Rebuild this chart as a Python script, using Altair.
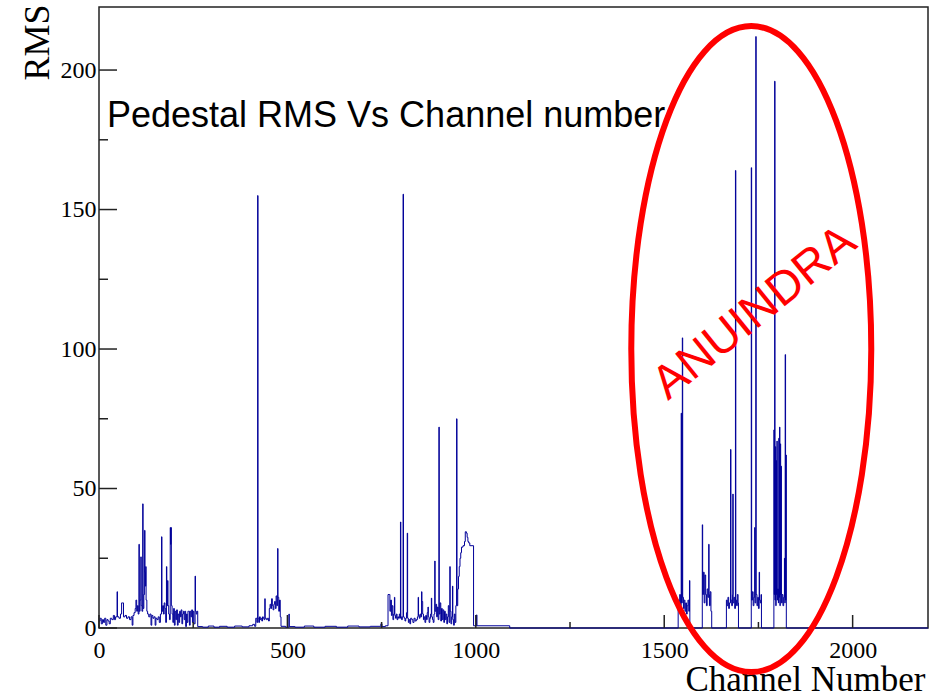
import altair as alt
import pandas as pd

# ---- histogram values (channel, RMS), drawn as steps ----
block_a = [(0, 2.5), (3, 3.5), (6, 1.5), (9, 3), (12, 2), (15, 3.5), (18, 1), (21, 3), (24, 2.5),
           (27, 1.5), (30, 3.5), (34, 3), (38, 4.5), (41, 3), (44, 4), (48, 13), (49, 4), (53, 3.5),
           (57, 5), (60, 9), (63, 9), (65, 4), (69, 4.5), (73, 3.5), (77, 4), (81, 3), (85, 4), (88, 1),
           (90, 4.5), (93, 5.5), (96, 7), (98, 10), (100, 6), (102, 8), (104, 5), (106, 30), (107, 6),
           (109, 10), (111, 25.5), (112, 8), (114, 6), (116, 44.5), (117, 7), (119, 12), (121, 35),
           (122, 20), (123, 15), (124, 22), (125, 10), (127, 6), (129, 5), (132, 4), (135, 5), (138, 1),
           (140, 4.5), (143, 3.5), (146, 4), (149, 1), (151, 3.5), (154, 3), (157, 4), (160, 2), (163, 5),
           (166, 32.7), (167, 6), (169, 8), (171, 5), (173, 9), (175, 7), (177, 2), (179, 22), (180, 8),
           (182, 17), (183, 8), (185, 5), (187, 3), (189, 36), (190, 30), (191, 36), (192, 8), (194, 5),
           (196, 2), (198, 7), (200, 1), (202, 6), (204, 3), (206, 6.5), (208, 1), (210, 5), (212, 2),
           (214, 6), (216, 4), (218, 6.5), (220, 1.5), (222, 5), (224, 6), (226, 3), (228, 6), (230, 0.5),
           (232, 5), (234, 2), (236, 6), (238, 6), (240, 1), (242, 6), (244, 4), (246, 6.5), (248, 2),
           (250, 6), (252, 1.5), (255, 18.6), (256, 6), (258, 5), (260, 6), (262, 0.5)]
block_b = [(275, 0.3), (290, 0.7), (305, 0.3), (320, 0.6), (340, 0.3), (360, 0.7), (380, 0.4),
           (398, 0.8), (408, 1.3), (413, 0.6)]
block_c = [(416, 3.5), (419, 2), (421, 155), (422, 3.5), (424, 2), (426, 4), (428, 3), (430, 3.5),
           (432, 2.5), (434, 4), (436, 3.5), (438, 3), (440, 10.5), (441, 3.5), (444, 3), (447, 3.5),
           (450, 2.5), (452, 7), (454, 8.5), (456, 7), (458, 10.5), (460, 8), (462, 6.5), (464, 8.5),
           (466, 9.5), (468, 7), (470, 11.5), (472, 8), (474, 28.5), (475, 11), (477, 6), (479, 10),
           (481, 4), (483, 0.6), (495, 0.3), (504, 5), (505, 0.5)]
block_d = [(520, 0.3), (545, 0.7), (570, 0.3), (600, 0.6), (630, 0.3), (660, 0.7), (690, 0.4),
           (720, 0.6), (748, 1.5), (751, 0.5), (760, 0.8)]
block_e = [(767, 12), (770, 12), (772, 6), (774, 10), (776, 4.5), (778, 8), (780, 3), (782, 5),
           (784, 11), (785, 4.5), (787, 3.5), (789, 5), (791, 3), (793, 4), (795, 3.5), (797, 5),
           (799, 3.5), (800, 38), (801, 4), (803, 3), (805, 4), (807, 155.5), (808, 4), (810, 3.5),
           (812, 2.5), (814, 3.5), (816, 5.5), (818, 34), (819, 3.5), (821, 2), (823, 3), (825, 1.5),
           (827, 3.5), (830, 3), (833, 2), (836, 3.5), (839, 2.5), (842, 3), (845, 4), (847, 11),
           (848, 4.5), (850, 3.5), (852, 5), (854, 4), (856, 13), (857, 9.5), (859, 5), (861, 3),
           (863, 4), (865, 2), (867, 4.5), (869, 3), (871, 5.5), (873, 7.5), (874, 4), (876, 2),
           (878, 3.5), (880, 5), (882, 10.7), (883, 4), (885, 3), (887, 2), (889, 5), (891, 24),
           (892, 6), (894, 8.5), (896, 4), (898, 7.5), (900, 3), (902, 72), (903, 5), (905, 9),
           (907, 2.5), (909, 7), (911, 3), (913, 6.5), (915, 2), (917, 6), (919, 3), (921, 5),
           (923, 1.5), (925, 4), (927, 8), (929, 2), (931, 22), (932, 6), (934, 1.5), (936, 4),
           (938, 15), (939, 3), (941, 1), (943, 5), (945, 2), (947, 8), (949, 75), (950, 8), (952, 14),
           (954, 18.5), (956, 22), (958, 25), (960, 27), (962, 29), (966, 29.5), (970, 31), (972, 34.5),
           (975, 34), (977, 32.5), (979, 31), (981, 30.5), (984, 29.5), (994, 0.8), (1002, 4.7),
           (1003, 0.8), (1090, 0), (1536, 0)]
block_f = [(1537, 10), (1539, 7), (1541, 12), (1543, 8), (1545, 77), (1546, 9), (1548, 104), (1549, 11),
           (1551, 7), (1553, 10), (1555, 6), (1557, 9), (1559, 5), (1561, 8), (1563, 10), (1565, 6),
           (1567, 17), (1568, 0)]
block_g = [(1601, 37), (1602, 12), (1604, 20), (1606, 9), (1608, 19), (1610, 12), (1612, 8), (1614, 14),
           (1616, 11), (1618, 30), (1619, 12), (1620, 8), (1622, 13), (1624, 6), (1626, 0)]
block_h = [(1665, 10), (1667, 8), (1669, 11), (1671, 7), (1673, 9), (1676, 64), (1677, 10), (1679, 8),
           (1681, 12), (1682, 48), (1683, 9), (1685, 11), (1687, 7), (1689, 164), (1690, 10), (1692, 8),
           (1694, 12), (1696, 9), (1697, 0)]
block_i = [(1731, 165), (1732, 10), (1734, 13), (1736, 8), (1738, 11), (1740, 36), (1741, 9), (1743, 212),
           (1744, 12), (1746, 8), (1748, 11), (1750, 7), (1752, 20), (1753, 10), (1755, 9), (1757, 12),
           (1758, 0)]
block_j = [(1791, 71), (1792, 12), (1793, 196), (1794, 10), (1795, 65), (1796, 8), (1797, 60), (1798, 12),
           (1799, 67), (1800, 10), (1801, 14), (1803, 9), (1804, 68), (1805, 11), (1806, 72), (1807, 8),
           (1808, 66), (1809, 12), (1810, 58), (1811, 9), (1813, 12), (1815, 8), (1817, 11), (1819, 25),
           (1820, 9), (1821, 98), (1822, 10), (1823, 62), (1824, 0), (2200, 0)]

y_major = [0, 50, 100, 150, 200]
y_minor = [25, 75, 125, 175]
x_major = [0, 500, 1000, 1500, 2000]
x_minor = [250, 750, 1250, 1750]

title_text = "Pedestal RMS Vs Channel number"
ann_text = "ANUINDRA"
ann_channel = [1740]
ann_rms = [113]
ellipse_channel = [1731]
ellipse_rms = [100]

pts = block_a + block_b + block_c + block_d + block_e + block_f + block_g + block_h + block_i + block_j
hist_df = pd.DataFrame(pts, columns=["channel", "rms"])

W, H = 829, 621
xs = alt.Scale(domain=[0, 2200], nice=False, zero=False)
ys = alt.Scale(domain=[0, 222.6], nice=False, zero=False)

SERIF = "Liberation Serif"
SANS = "Liberation Sans"

x_axis = alt.Axis(values=x_major, title="Channel Number", ticks=False, tickSize=0, domain=False, grid=False,
                  labelFont=SERIF, labelFontSize=24, labelColor="#000", labelPadding=10, labelFlush=False,
                  labelOverlap=False, format="d",
                  titleFont=SERIF, titleFontSize=35, titleFontWeight="normal", titleColor="#000",
                  titleX=826, titleY=62, titleAlign="right", titleBaseline="alphabetic", titleAngle=0)
y_axis = alt.Axis(values=y_major, title="RMS", ticks=False, tickSize=0, domain=False, grid=False,
                  labelFont=SERIF, labelFontSize=24, labelColor="#000", labelPadding=3, labelFlush=False,
                  labelOverlap=False, format="d",
                  titleFont=SERIF, titleFontSize=36, titleFontWeight="normal", titleColor="#000",
                  titleX=-51, titleY=-3, titleAlign="right", titleBaseline="alphabetic", titleAngle=270)

hist = alt.Chart(hist_df).mark_line(interpolate="step-after", color="#000099", strokeWidth=1).encode(
    x=alt.X("channel:Q", scale=xs, axis=x_axis),
    y=alt.Y("rms:Q", scale=ys, axis=y_axis),
)

def yticks(vals, length):
    return alt.Chart(pd.DataFrame({"rms": vals})).mark_rule(color="#222", strokeWidth=1.5).encode(
        y=alt.Y("rms:Q", scale=ys, axis=y_axis), x=alt.value(0), x2=alt.value(length))

def xticks(vals, length):
    return alt.Chart(pd.DataFrame({"channel": vals})).mark_rule(color="#222", strokeWidth=1.5).encode(
        x=alt.X("channel:Q", scale=xs, axis=x_axis), y=alt.value(H), y2=alt.value(H - length))

title = alt.Chart(pd.DataFrame({"t": [title_text]})).mark_text(
    font=SANS, fontSize=36, color="#000", align="left", baseline="alphabetic").encode(
    text="t:N", x=alt.value(8), y=alt.value(120))

ELLIPSE = ("M 0 -1 C 0.2052 -1 0.3715 -0.5523 0.3715 0 C 0.3715 0.5523 0.2052 1 0 1 "
           "C -0.2052 1 -0.3715 0.5523 -0.3715 0 C -0.3715 -0.5523 -0.2052 -1 0 -1 Z")
ellipse = alt.Chart(pd.DataFrame({"channel": ellipse_channel, "rms": ellipse_rms})).mark_point(
    shape=ELLIPSE, size=417316, filled=False, color="#ff0000", strokeWidth=6, opacity=1).encode(
    x=alt.X("channel:Q", scale=xs, axis=x_axis), y=alt.Y("rms:Q", scale=ys, axis=y_axis))

ann = alt.Chart(pd.DataFrame({"channel": ann_channel, "rms": ann_rms, "t": [ann_text]})).mark_text(
    font=SANS, fontSize=47, color="#ff0000", align="center", baseline="middle", angle=321).encode(
    x=alt.X("channel:Q", scale=xs, axis=x_axis), y=alt.Y("rms:Q", scale=ys, axis=y_axis), text="t:N")

chart = alt.layer(
    hist, yticks(y_major, 18), yticks(y_minor, 9), xticks(x_major, 13), xticks(x_minor, 6),
    title, ellipse, ann
).properties(
    width=W, height=H, background="white",
    autosize=alt.AutoSizeParams(type="none"),
    padding={"left": 99, "top": 7, "right": 5, "bottom": 67},
).configure_view(stroke="#222", strokeWidth=1.5)

chart.save("out.html", embed_options={"renderer": "svg", "actions": False})
